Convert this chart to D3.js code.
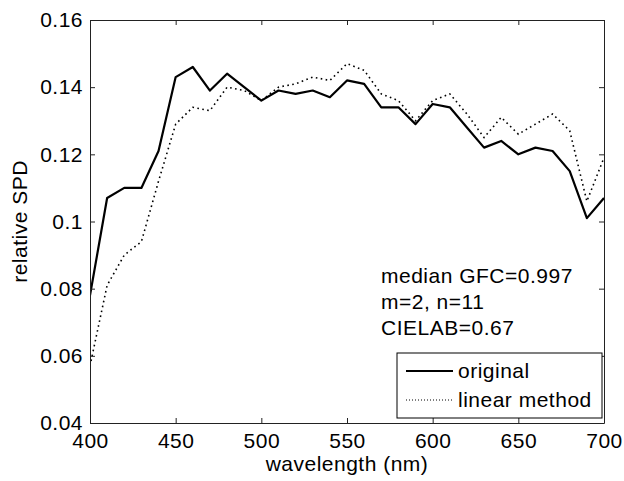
<!DOCTYPE html>
<html lang="en">
<head>
    <meta charset="UTF-8">
    <title>relative SPD</title>
    <script src="https://d3js.org/d3.v7.min.js"></script>
    <style>
        body {
            margin: 0;
            background: #fff;
        }
        svg text {
            font-family: "Liberation Sans", Arial, sans-serif;
            font-size: 21px;
            letter-spacing: 0.5px;
            fill: #000;
        }
        .axis path, .axis line {
            stroke: #222;
        }
    </style>
</head>
<body>
    <svg width="624" height="481"></svg>
    <script>
        const wavelengths = [400, 410, 420, 430, 440, 450, 460, 470, 480, 490, 500,
            510, 520, 530, 540, 550, 560, 570, 580, 590, 600,
            610, 620, 630, 640, 650, 660, 670, 680, 690, 700];
        const original = [0.078, 0.107, 0.110, 0.110, 0.121, 0.143, 0.146, 0.139, 0.144, 0.140, 0.136,
            0.139, 0.138, 0.139, 0.137, 0.142, 0.141, 0.134, 0.134, 0.129, 0.135,
            0.134, 0.128, 0.122, 0.124, 0.120, 0.122, 0.121, 0.115, 0.101, 0.107];
        const linearMethod = [0.057, 0.081, 0.090, 0.094, 0.112, 0.129, 0.134, 0.133, 0.140, 0.139, 0.136,
            0.140, 0.141, 0.143, 0.142, 0.147, 0.145, 0.138, 0.136, 0.130, 0.136,
            0.138, 0.132, 0.125, 0.131, 0.126, 0.129, 0.132, 0.127, 0.106, 0.119];
        const xTicks = [400, 450, 500, 550, 600, 650, 700];
        const yTicks = [0.04, 0.06, 0.08, 0.1, 0.12, 0.14, 0.16];
        const notes = ["median GFC=0.997", "m=2, n=11", "CIELAB=0.67"];
        const legendLabels = ["original", "linear method"];

        const svg = d3.select("svg");
        const plotLeft = 90, plotRight = 604, plotTop = 20, plotBottom = 423;

        const x = d3.scaleLinear().domain([400, 700]).range([plotLeft, plotRight]);
        const y = d3.scaleLinear().domain([0.04, 0.16]).range([plotBottom, plotTop]);

        svg.append("clipPath").attr("id", "plot")
            .append("rect")
            .attr("x", plotLeft).attr("y", plotTop)
            .attr("width", plotRight - plotLeft).attr("height", plotBottom - plotTop);

        const line = d3.line()
            .x((d, i) => x(wavelengths[i]))
            .y(d => y(d));

        const lines = svg.append("g").attr("clip-path", "url(#plot)");
        lines.append("path")
            .datum(linearMethod)
            .attr("fill", "none")
            .attr("stroke", "#000")
            .attr("stroke-width", 1.6)
            .attr("stroke-dasharray", "1.6,3.4")
            .attr("d", line);
        lines.append("path")
            .datum(original)
            .attr("fill", "none")
            .attr("stroke", "#000")
            .attr("stroke-width", 2.2)
            .attr("stroke-linejoin", "round")
            .attr("d", line);

        // axes, MATLAB style: ticks inward on all four sides
        svg.append("g").attr("class", "axis")
            .attr("transform", `translate(0,${plotBottom})`)
            .call(d3.axisBottom(x).tickValues(xTicks).tickSizeInner(-5).tickSizeOuter(0).tickPadding(10));
        svg.append("g").attr("class", "axis")
            .attr("transform", `translate(${plotLeft},0)`)
            .call(d3.axisLeft(y).tickValues(yTicks).tickFormat(d3.format("~g")).tickSizeInner(-5).tickSizeOuter(0).tickPadding(7));
        svg.append("g").attr("class", "axis")
            .attr("transform", `translate(0,${plotTop})`)
            .call(d3.axisTop(x).tickValues(xTicks).tickFormat("").tickSizeInner(-5).tickSizeOuter(0));
        svg.append("g").attr("class", "axis")
            .attr("transform", `translate(${plotRight},0)`)
            .call(d3.axisRight(y).tickValues(yTicks).tickFormat("").tickSizeInner(-5).tickSizeOuter(0));
        svg.selectAll(".axis").attr("font-family", null).attr("font-size", null);

        svg.append("text")
            .attr("x", (plotLeft + plotRight) / 2)
            .attr("y", 471)
            .attr("text-anchor", "middle")
            .text("wavelength (nm)");
        svg.append("text")
            .attr("transform", `translate(27,${(plotTop + plotBottom) / 2}) rotate(-90)`)
            .attr("text-anchor", "middle")
            .text("relative SPD");

        // annotation
        svg.append("g").selectAll("text")
            .data(notes)
            .enter().append("text")
            .attr("x", 381)
            .attr("y", (d, i) => 283 + i * 26)
            .text(d => d);

        // legend
        const legend = svg.append("g");
        legend.append("rect")
            .attr("x", 397).attr("y", 353)
            .attr("width", 205).attr("height", 65)
            .attr("fill", "#fff")
            .attr("stroke", "#000")
            .attr("stroke-width", 1);
        legend.selectAll("line")
            .data(legendLabels)
            .enter().append("line")
            .attr("x1", 406).attr("x2", 453)
            .attr("y1", (d, i) => 371 + i * 29)
            .attr("y2", (d, i) => 371 + i * 29)
            .attr("stroke", "#000")
            .attr("stroke-width", (d, i) => i ? 1 : 2.2)
            .attr("stroke-dasharray", (d, i) => i ? "1,2" : null);
        legend.selectAll("text")
            .data(legendLabels)
            .enter().append("text")
            .attr("x", 458)
            .attr("y", (d, i) => 378 + i * 29)
            .text(d => d);
    </script>
</body>
</html>
